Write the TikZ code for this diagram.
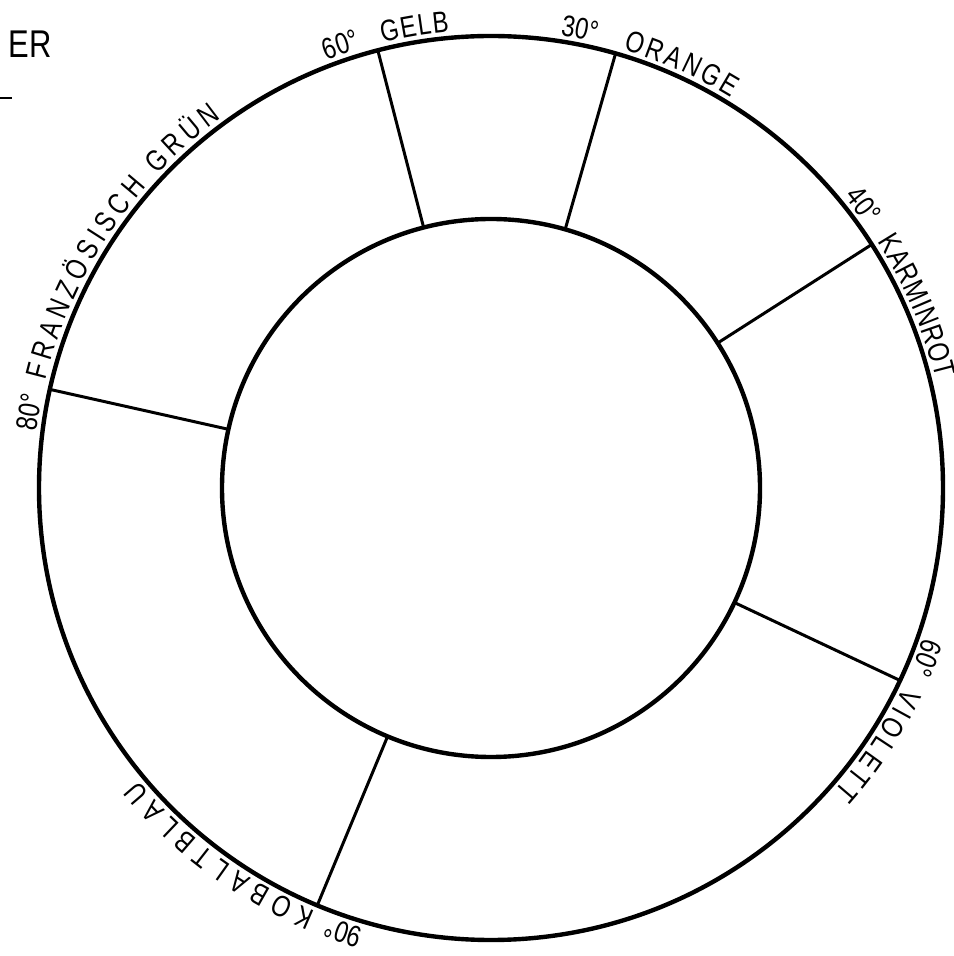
\documentclass[tikz,border=0pt]{standalone}
\usepackage{fontspec}
\setmainfont{Liberation Sans}[FakeStretch=0.8]
\usetikzlibrary{decorations.text}
\newcommand{\lblfont}{\fontsize{17}{20}\selectfont}
\tikzset{
  rim/.style={line width=2.5pt},
  spoke/.style={line width=1.7pt},
  arclabel/.style={decorate,decoration={text along path,text align={fit to path},text={|\lblfont|#1}}},
  arcnum/.style={decorate,decoration={text along path,text align=left,text={|\lblfont|#1}}}
}

\begin{document}
\begin{tikzpicture}
    \useasboundingbox (-9.82,-9.36) rectangle (9.24,9.76);
    \def\ro{9.04}\def\ri{5.38}\def\rt{9.16}
    % ring
    \draw[rim] (0,0) circle[radius=\ro];
    \draw[rim] (0,0) circle[radius=\ri];
    % sector borders
    \foreach \a in {104.5,74,32.6,-25.2,-112.6,167.4}
        \draw[spoke] (\a:\ri) -- (\a:\ro);
    % labels, clockwise along the rim
    \path[arcnum={60°}] (111:\rt) arc[start angle=111,end angle=104,radius=\rt];
    \path[arclabel={GELB}] (103.7:\rt) arc[start angle=103.7,end angle=95.2,radius=\rt];
    \path[arcnum={30°}] (81.3:\rt) arc[start angle=81.3,end angle=74,radius=\rt];
    \path[arclabel={ORANGE}] (73.2:\rt) arc[start angle=73.2,end angle=58.4,radius=\rt];
    \path[arcnum={40°}] (39.5:\rt) arc[start angle=39.5,end angle=32.5,radius=\rt];
    \path[arclabel={KARMINROT}] (32.5:\rt) arc[start angle=32.5,end angle=13.8,radius=\rt];
    \path[arcnum={60°}] (-19.1:\rt) arc[start angle=-19.1,end angle=-26,radius=\rt];
    \path[arclabel={VIOLETT}] (-25.8:\rt) arc[start angle=-25.8,end angle=-41.5,radius=\rt];
    \path[arcnum={90°}] (-106.1:\rt) arc[start angle=-106.1,end angle=-113,radius=\rt];
    \path[arclabel={KOBALTBLAU}] (-112.5:\rt) arc[start angle=-112.5,end angle=-140.4,radius=\rt];
    \path[arcnum={80°}] (172.9:\rt) arc[start angle=172.9,end angle=166,radius=\rt];
    \path[arclabel={FRANZÖSISCH GRÜN}] (166.4:\rt) arc[start angle=166.4,end angle=126.1,radius=\rt];
    % page remains
    \node[font=\fontsize{22}{26}\selectfont,inner sep=0pt] (er) at (-9.22,8.88) {ER};
    \draw[line width=1.5pt] (-9.82,7.8) -- (-9.58,7.8);
\end{tikzpicture}
\end{document}
